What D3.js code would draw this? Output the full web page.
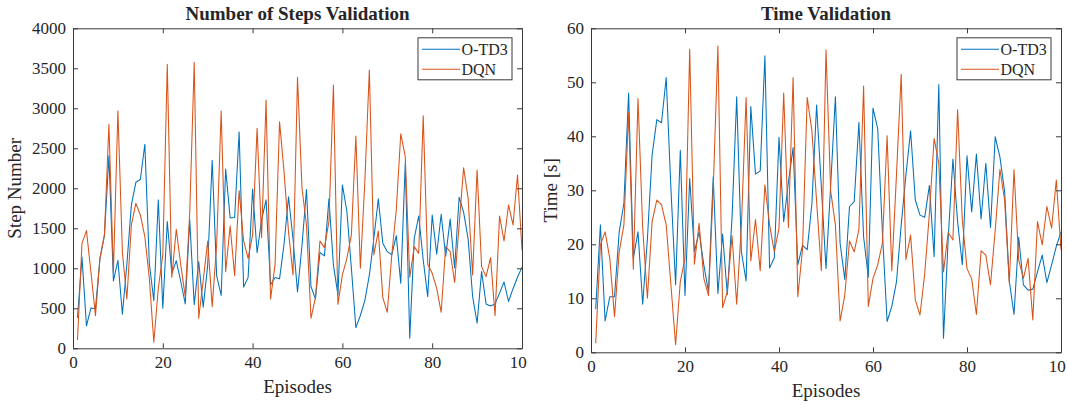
<!DOCTYPE html>
<html><head><meta charset="utf-8">
<script src="https://cdn.jsdelivr.net/npm/d3@7"></script>
<style>
body{margin:0;background:#fff}
svg{display:block}
text{font-family:"Liberation Serif","Times New Roman",serif;fill:#262626}
</style>
</head><body>
<svg id="c" width="1067" height="405"></svg>
<script>
const episodes = d3.range(1, 101);
const seriesNames = ["O-TD3", "DQN"];
const seriesColors = ["#0072BD", "#D95319"];
const xTicks = [0, 20, 40, 60, 80, 100];
const xTickLabels = ["0", "20", "40", "60", "80", "10"];
const stepTicks = [0, 500, 1000, 1500, 2000, 2500, 3000, 3500, 4000];
const timeTicks = [0, 10, 20, 30, 40, 50, 60];

const stepsOTD3 = [380,1140,280,505,495,1120,1410,2405,842,1100,425,1050,1790,2075,2110,2550,1060,595,1855,500,
1585,935,1095,835,555,1605,545,1085,515,1040,2350,905,660,2240,1630,1635,2705,765,885,1990,
1195,1605,1855,795,885,868,1300,1895,1370,705,1285,1985,772,617,1200,1155,1868,1042,667,2042,
1710,1000,258,410,600,915,1370,1868,1312,1208,1167,1408,812,2320,125,1375,1654,1104,646,1667,
1175,1675,1150,1615,1003,1888,1700,1368,650,315,960,555,530,555,690,828,585,745,888,1015];

const stepsDQN = [105,1312,1471,950,408,1125,1417,2800,950,2970,1200,617,1542,1812,1667,1396,875,75,750,1167,
3550,887,1487,1042,646,1700,3575,375,850,1342,521,1300,2967,958,1529,908,1971,1342,1125,1417,
2750,1383,3104,617,1042,2833,2208,1458,917,3387,2000,1542,375,633,1342,1258,1583,3292,550,917,
1125,1417,2654,1000,2083,3479,1167,1467,633,450,1167,1729,2683,2396,887,1271,1187,2908,1050,937,
750,450,1271,1208,825,1542,2258,1875,917,2229,1021,896,1133,408,1654,1342,1792,1542,2167,1229];

const timeOTD3 = [8,23.6,5.8,10.3,10.3,22.3,27.6,48,17.4,22.3,8.9,21,36.5,43.1,42.5,50.9,30.4,12.5,37.4,10.5,
32.2,18.6,22.3,16.2,11.2,32.5,10.9,21.9,10.7,24.8,47.3,18.6,13.2,45.5,33,33.6,54.9,15.6,17.5,39.8,
24.2,31.5,37.9,16.2,19.8,19,27.5,45.8,30.8,15.5,31,47.3,20.2,13.5,27,27.9,42.6,21.4,13.9,45.2,
41.4,22.3,5.7,8.5,13.1,23.6,32.8,41,28.2,25.4,25,30.9,17.7,49.6,2.6,21.1,35.8,24.2,16.2,36.4,
26,36.7,24.7,35,23.1,39.9,36.2,29.8,13.2,7,21.3,12.5,11.5,11.7,14.9,18,12.9,16.2,19.6,22.3];

const timeDQN = [1.7,19.9,22.3,17.4,6.6,18.6,23.6,44.4,15.4,47,23,10,24.2,28.2,27.3,23.6,12.5,1.4,13.1,17.4,
56.1,16.3,23.9,13.7,10.5,30,56.7,8.3,11.2,21.6,8.9,23.6,47.2,16.9,24.6,15.1,31,23.6,18.6,23,
48,23.1,50.9,10.3,19,47.2,41,28,15.1,56,29.8,23.6,5.8,10.6,20.6,18.6,22.7,49.3,8.5,13.7,
16.2,20.2,40.1,15.1,33,51.5,17.2,21.7,9.7,6.9,14.5,25.7,39.6,35,14.9,22.2,20.8,44.9,24.5,15.5,
13.6,7,18.8,18,12.5,22.6,33.9,28.2,12.8,33.8,17.1,13.7,17.4,6,24.2,19.9,27,23,31.9,19];

const panels = [
  {id:"p1", title:"Number of Steps Validation", ylabel:"Step Number", series:[stepsOTD3, stepsDQN],
   yTicks:stepTicks, left:73, right:522, top:28.3, bottom:348.3, ylabX:20.5},
  {id:"p2", title:"Time Validation", ylabel:"Time [s]", series:[timeOTD3, timeDQN],
   yTicks:timeTicks, left:591, right:1061, top:28.3, bottom:352.3, ylabX:556.5}
];

const svg = d3.select("#c");
const axisColor = "#3a3a3a";

panels.forEach(p => {
  const g = svg.append("g");
  const x = d3.scaleLinear().domain([0, 100]).range([p.left, p.right]);
  const y = d3.scaleLinear().domain([p.yTicks[0], p.yTicks[p.yTicks.length-1]]).range([p.bottom, p.top]);

  g.append("rect").attr("x", p.left).attr("y", p.top).attr("width", p.right - p.left)
    .attr("height", p.bottom - p.top).attr("fill", "#fff");

  const line = d3.line().x((d, i) => x(episodes[i])).y(d => y(d));
  p.series.forEach((s, k) => {
    g.append("path").datum(s).attr("d", line).attr("fill", "none")
      .attr("stroke", seriesColors[k]).attr("stroke-width", 1.05).attr("stroke-linejoin", "round");
  });

  const styleAxis = sel => {
    sel.select(".domain").attr("stroke", axisColor).attr("stroke-width", 1);
    sel.selectAll(".tick line").attr("stroke", axisColor).attr("stroke-width", 1);
    sel.selectAll(".tick text").attr("font-size", 17).attr("fill", "#262626")
      .attr("font-family", '"Liberation Serif","Times New Roman",serif');
  };

  const xb = g.append("g").attr("transform", `translate(0,${p.bottom})`)
    .call(d3.axisBottom(x).tickValues(xTicks).tickFormat((d, i) => xTickLabels[i])
      .tickSizeInner(-5).tickSizeOuter(0).tickPadding(8))
    .call(styleAxis);
  // last label is the cropped "10" of the original: keep it where "100" would start
  xb.selectAll(".tick text").filter((d, i) => i === xTicks.length - 1).attr("dx", "-0.25em");

  g.append("g").attr("transform", `translate(0,${p.top})`)
    .call(d3.axisTop(x).tickValues(xTicks).tickFormat("").tickSizeInner(-5).tickSizeOuter(0))
    .call(styleAxis);
  g.append("g").attr("transform", `translate(${p.left},0)`)
    .call(d3.axisLeft(y).tickValues(p.yTicks).tickFormat(d3.format("d")).tickSizeInner(-5).tickSizeOuter(0).tickPadding(7))
    .call(styleAxis);
  g.append("g").attr("transform", `translate(${p.right},0)`)
    .call(d3.axisRight(y).tickValues(p.yTicks).tickFormat("").tickSizeInner(-5).tickSizeOuter(0))
    .call(styleAxis);

  const cx = (p.left + p.right) / 2;
  g.append("text").attr("x", cx).attr("y", 19.5).attr("text-anchor", "middle")
    .attr("font-size", 19).attr("font-weight", "bold").attr("fill", "#000").text(p.title);
  g.append("text").attr("x", cx).attr("y", p.bottom + 45).attr("text-anchor", "middle")
    .attr("font-size", 19).text("Episodes");
  g.append("text").attr("transform", `translate(${p.ylabX},${(p.top + p.bottom) / 2}) rotate(-90)`)
    .attr("text-anchor", "middle").attr("font-size", 19).text(p.ylabel);

  const lx = p.right - 104, ly = p.top + 9.5, lw = 94, lh = 42;
  const lg = g.append("g");
  lg.append("rect").attr("x", lx).attr("y", ly).attr("width", lw).attr("height", lh)
    .attr("fill", "#fff").attr("stroke", axisColor).attr("stroke-width", 1);
  seriesNames.forEach((n, k) => {
    const yy = ly + 11.5 + k * 20;
    lg.append("line").attr("x1", lx + 4).attr("x2", lx + 42).attr("y1", yy).attr("y2", yy)
      .attr("stroke", seriesColors[k]).attr("stroke-width", 1.05);
    lg.append("text").attr("x", lx + 43.5).attr("y", yy + 5.5).attr("font-size", 16).text(n);
  });
});
</script>
</body></html>
